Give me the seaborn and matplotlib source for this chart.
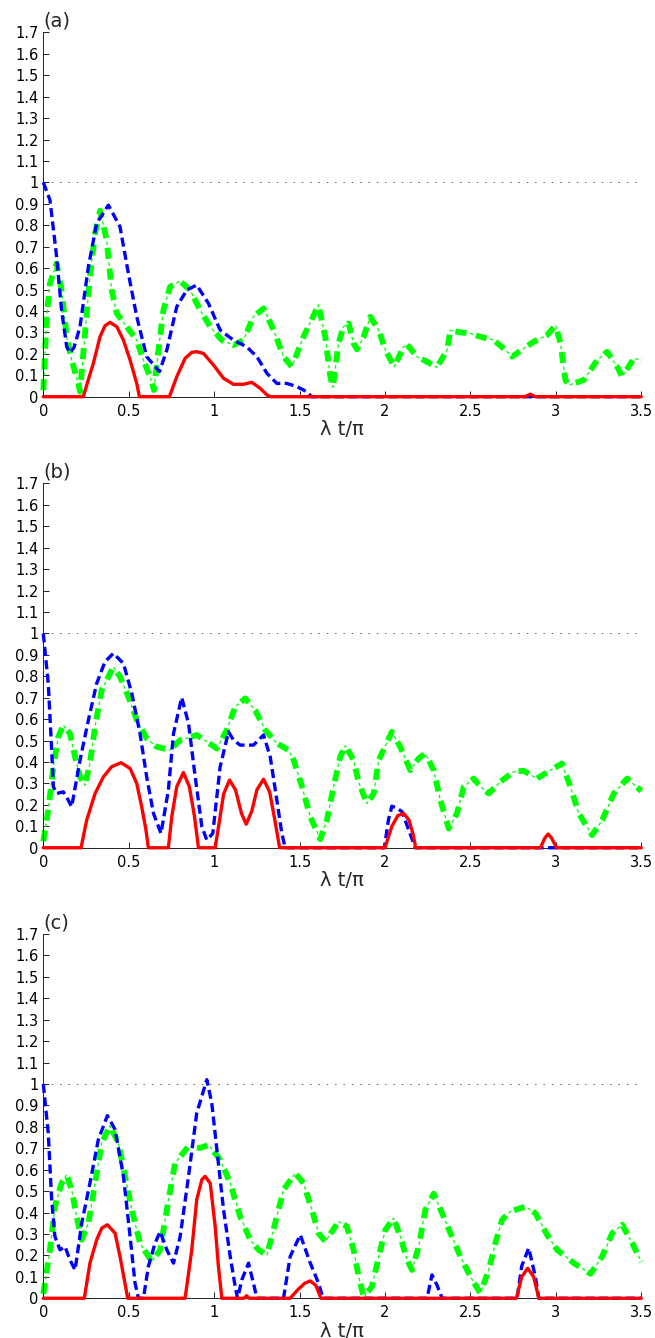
import matplotlib
matplotlib.use("Agg")
import matplotlib.pyplot as plt
import seaborn as sns
from matplotlib.ticker import FormatStrFormatter

# ---- data (x = lambda t / pi) ----
x_ticks = [0, 0.5, 1, 1.5, 2, 2.5, 3, 3.5]
y_ticks = [0, 0.1, 0.2, 0.3, 0.4, 0.5, 0.6, 0.7, 0.8, 0.9,
           1.0, 1.1, 1.2, 1.3, 1.4, 1.5, 1.6, 1.7]
panel_labels = ["(a)", "(b)", "(c)"]

# panel (a)
a_red_t = [0, 0.234, 0.26, 0.293, 0.332, 0.361, 0.39, 0.43, 0.469, 0.508,
           0.547, 0.5625, 0.738, 0.781, 0.83, 0.869, 0.898, 0.9375, 0.996, 1.055,
           1.113, 1.17, 1.22, 1.27, 1.309, 1.332, 2.82, 2.85, 2.88, 3.5]
a_red_p = [0, 0, 0.07, 0.156, 0.28, 0.331, 0.347, 0.327, 0.264, 0.171,
           0.062, 0, 0, 0.093, 0.179, 0.207, 0.21, 0.202, 0.148, 0.086,
           0.058, 0.058, 0.067, 0.039, 0.008, 0, 0, 0.012, 0, 0]

a_blue_t = [0, 0.039, 0.078, 0.107, 0.137, 0.156, 0.18, 0.215, 0.264, 0.3125,
            0.381, 0.449, 0.498, 0.547, 0.605, 0.68, 0.723, 0.781, 0.84, 0.898,
            0.967, 1.035, 1.113, 1.19, 1.25, 1.309, 1.367, 1.426, 1.484, 1.543,
            1.57, 3.5]
a_blue_p = [1.0, 0.918, 0.653, 0.404, 0.233, 0.205, 0.23, 0.327, 0.607, 0.809,
            0.894, 0.793, 0.575, 0.373, 0.187, 0.117, 0.218, 0.42, 0.498, 0.521,
            0.435, 0.311, 0.264, 0.233, 0.187, 0.109, 0.062, 0.062, 0.047, 0.023,
            0, 0]

a_green_t = [0, 0.02, 0.039, 0.078, 0.107, 0.137, 0.166, 0.205, 0.215, 0.244,
             0.273, 0.303, 0.332, 0.371, 0.40, 0.43, 0.488, 0.547, 0.586, 0.625,
             0.648, 0.674, 0.703, 0.742, 0.80, 0.859, 0.918, 0.977, 1.045, 1.113,
             1.172, 1.23, 1.289, 1.348, 1.406, 1.455, 1.523, 1.611, 1.65, 1.68,
             1.695, 1.728, 1.757, 1.787, 1.816, 1.836, 1.875, 1.914, 1.963, 2.002,
             2.054, 2.109, 2.128, 2.187, 2.246, 2.304, 2.363, 2.383, 2.441, 2.50,
             2.558, 2.636, 2.695, 2.744, 2.812, 2.871, 2.949, 2.998, 3.027, 3.056,
             3.076, 3.164, 3.242, 3.30, 3.359, 3.388, 3.457, 3.5]
a_green_p = [0.03, 0.373, 0.529, 0.622, 0.498, 0.28, 0.171, 0.062, 0.023, 0.295,
             0.56, 0.762, 0.868, 0.731, 0.498, 0.389, 0.327, 0.264, 0.171, 0.093,
             0.031, 0.218, 0.404, 0.513, 0.54, 0.498, 0.404, 0.327, 0.264, 0.241,
             0.264, 0.373, 0.412, 0.311, 0.187, 0.14, 0.28, 0.428, 0.28, 0.093,
             0.044, 0.249, 0.327, 0.342, 0.249, 0.221, 0.28, 0.373, 0.311, 0.218,
             0.14, 0.233, 0.244, 0.187, 0.163, 0.137, 0.218, 0.31, 0.30, 0.295,
             0.28, 0.264, 0.225, 0.187, 0.225, 0.257, 0.288, 0.334, 0.249, 0.078,
             0.054, 0.078, 0.171, 0.21, 0.14, 0.093, 0.179, 0.171]

# panel (b)
b_red_t = [0, 0.221, 0.254, 0.303, 0.352, 0.40, 0.455, 0.508, 0.547, 0.576,
           0.601, 0.615, 0.732, 0.752, 0.781, 0.82, 0.855, 0.885, 0.908, 1.006,
           1.03, 1.055, 1.09, 1.125, 1.16, 1.1875, 1.22, 1.25, 1.289, 1.325,
           1.355, 1.383, 2.0, 2.04, 2.075, 2.109, 2.14, 2.165, 2.18, 2.91,
           2.935, 2.955, 2.975, 3.004, 3.5]
b_red_p = [0, 0, 0.129, 0.253, 0.331, 0.378, 0.397, 0.37, 0.3, 0.191,
           0.082, 0, 0, 0.145, 0.285, 0.351, 0.285, 0.145, 0, 0,
           0.12, 0.25, 0.316, 0.27, 0.16, 0.11, 0.17, 0.27, 0.32, 0.26,
           0.13, 0, 0, 0.1, 0.15, 0.16, 0.13, 0.06, 0, 0,
           0.045, 0.064, 0.045, 0, 0]

b_blue_t = [0, 0.029, 0.049, 0.059, 0.078, 0.117, 0.146, 0.166, 0.215, 0.264,
            0.3125, 0.361, 0.41, 0.469, 0.518, 0.566, 0.605, 0.645, 0.689, 0.732,
            0.762, 0.81, 0.85, 0.889, 0.928, 0.957, 0.992, 1.035, 1.084, 1.113,
            1.152, 1.23, 1.289, 1.328, 1.367, 1.396, 1.416, 1.996, 2.02, 2.04,
            2.07, 2.1, 2.14, 2.177, 3.5]
b_blue_p = [1.0, 0.767, 0.456, 0.285, 0.253, 0.261, 0.222, 0.191, 0.409, 0.596,
            0.767, 0.868, 0.907, 0.86, 0.72, 0.533, 0.331, 0.16, 0.067, 0.269,
            0.533, 0.701, 0.58, 0.331, 0.098, 0.036, 0.067, 0.378, 0.541, 0.502,
            0.479, 0.479, 0.526, 0.425, 0.222, 0.067, 0, 0, 0.13, 0.194,
            0.185, 0.168, 0.08, 0, 0]

b_green_t = [0, 0.029, 0.059, 0.088, 0.117, 0.156, 0.186, 0.215, 0.244, 0.273,
             0.303, 0.342, 0.41, 0.449, 0.498, 0.547, 0.605, 0.664, 0.742, 0.80,
             0.898, 0.957, 1.016, 1.074, 1.123, 1.182, 1.24, 1.299, 1.367, 1.436,
             1.465, 1.514, 1.5625, 1.621, 1.66, 1.699, 1.738, 1.768, 1.816, 1.845,
             1.894, 1.934, 1.963, 2.04, 2.089, 2.148, 2.197, 2.236, 2.285, 2.324,
             2.373, 2.421, 2.461, 2.519, 2.558, 2.607, 2.675, 2.754, 2.812, 2.89,
             2.968, 3.036, 3.085, 3.134, 3.212, 3.271, 3.339, 3.417, 3.5]
b_green_p = [0.03, 0.176, 0.378, 0.518, 0.572, 0.533, 0.425, 0.331, 0.292, 0.393,
             0.565, 0.736, 0.844, 0.798, 0.705, 0.596, 0.51, 0.471, 0.456, 0.502,
             0.526, 0.495, 0.463, 0.549, 0.658, 0.697, 0.642, 0.549, 0.487, 0.456,
             0.409, 0.285, 0.145, 0.04, 0.129, 0.285, 0.425, 0.476, 0.409, 0.308,
             0.207, 0.253, 0.409, 0.541, 0.471, 0.362, 0.417, 0.44, 0.362, 0.222,
             0.09, 0.16, 0.285, 0.323, 0.285, 0.253, 0.308, 0.355, 0.359, 0.323,
             0.362, 0.393, 0.285, 0.16, 0.059, 0.129, 0.253, 0.323, 0.265]

# panel (c)
c_red_t = [0, 0.24, 0.273, 0.3125, 0.342, 0.375, 0.42, 0.449, 0.478, 0.494,
           0.83, 0.869, 0.898, 0.928, 0.947, 0.977, 1.006, 1.025, 1.045, 1.175,
           1.19, 1.205, 1.445, 1.49, 1.53, 1.5625, 1.595, 1.625, 2.769, 2.80,
           2.835, 2.87, 2.9, 3.5]
c_red_p = [0, 0, 0.164, 0.273, 0.327, 0.343, 0.304, 0.195, 0.07, 0,
           0, 0.226, 0.46, 0.553, 0.569, 0.537, 0.335, 0.148, 0, 0,
           0.012, 0, 0, 0.04, 0.07, 0.081, 0.06, 0, 0, 0.1,
           0.14, 0.1, 0, 0]

c_blue_t = [0, 0.029, 0.049, 0.068, 0.098, 0.127, 0.156, 0.186, 0.225, 0.273,
            0.322, 0.375, 0.42, 0.469, 0.508, 0.537, 0.557, 0.586, 0.615, 0.654,
            0.684, 0.723, 0.762, 0.801, 0.85, 0.898, 0.957, 0.986, 1.016, 1.055,
            1.094, 1.123, 1.137, 1.162, 1.201, 1.23, 1.25, 1.406, 1.445, 1.504,
            1.5625, 1.611, 1.637, 2.246, 2.275, 2.305, 2.334, 2.773, 2.80, 2.841,
            2.88, 2.9, 3.5]
c_blue_p = [1.0, 0.771, 0.46, 0.288, 0.226, 0.241, 0.179, 0.132, 0.35, 0.537,
            0.74, 0.852, 0.787, 0.569, 0.288, 0.07, 0, 0, 0.148, 0.257,
            0.311, 0.226, 0.164, 0.288, 0.569, 0.864, 1.02, 0.911, 0.693, 0.413,
            0.195, 0.055, 0, 0.086, 0.164, 0.07, 0, 0, 0.195, 0.296,
            0.164, 0.07, 0, 0, 0.109, 0.06, 0, 0, 0.15, 0.234,
            0.10, 0, 0]

c_green_t = [0, 0.039, 0.068, 0.107, 0.137, 0.166, 0.195, 0.225, 0.264, 0.303,
             0.342, 0.39, 0.439, 0.479, 0.518, 0.566, 0.635, 0.684, 0.723, 0.771,
             0.85, 0.918, 0.967, 1.035, 1.094, 1.152, 1.211, 1.26, 1.309, 1.357,
             1.406, 1.475, 1.523, 1.572, 1.611, 1.65, 1.67, 1.728, 1.777, 1.816,
             1.846, 1.875, 1.924, 1.963, 2.002, 2.05, 2.09, 2.129, 2.158, 2.197,
             2.236, 2.285, 2.334, 2.383, 2.441, 2.5, 2.558, 2.607, 2.646, 2.685,
             2.734, 2.822, 2.88, 2.949, 3.007, 3.105, 3.203, 3.271, 3.33, 3.388,
             3.447, 3.5]
c_green_p = [0.02, 0.226, 0.428, 0.537, 0.576, 0.506, 0.382, 0.273, 0.35, 0.537,
             0.724, 0.805, 0.724, 0.569, 0.413, 0.257, 0.171, 0.226, 0.413, 0.631,
             0.709, 0.701, 0.716, 0.646, 0.537, 0.382, 0.273, 0.226, 0.202, 0.35,
             0.506, 0.584, 0.537, 0.413, 0.304, 0.265, 0.288, 0.358, 0.335, 0.226,
             0.101, 0.005, 0.055, 0.195, 0.319, 0.374, 0.288, 0.179, 0.132, 0.241,
             0.413, 0.488, 0.397, 0.304, 0.195, 0.101, 0.023, 0.132, 0.257, 0.366,
             0.405, 0.428, 0.397, 0.296, 0.226, 0.164, 0.114, 0.195, 0.304, 0.343,
             0.257, 0.17]


def draw_panel(ax, label, red, blue, green):
    """Draw one of the three stacked panels."""
    line_kws = dict(ax=ax, estimator=None, sort=False, clip_on=False)

    # reference level at 1
    ax.axhline(1.0, color="0.35", linewidth=0.7, linestyle=(0, (1, 5)), zorder=1)

    # green dash-dot: thick dashes plus thin "dots" in the gaps
    sns.lineplot(x=green[0], y=green[1], color=(0, 1, 0), linewidth=4.2,
                 linestyle=(0, (8, 7)), zorder=2, **line_kws)
    sns.lineplot(x=green[0], y=green[1], color=(0, 1, 0), linewidth=0.9,
                 linestyle=(4.5, (2.5, 12.5)), zorder=2, **line_kws)
    # blue dashed
    sns.lineplot(x=blue[0], y=blue[1], color=(0, 0, 1), linewidth=2.4,
                 linestyle=(0, (6.5, 3.2)), zorder=3, **line_kws)
    # red solid
    sns.lineplot(x=red[0], y=red[1], color=(1, 0, 0), linewidth=2.4,
                 linestyle="-", zorder=4, **line_kws)

    ax.set_xlim(0, 3.5)
    ax.set_ylim(0, 1.7)
    ax.set_xticks(x_ticks)
    ax.set_yticks(y_ticks)
    ax.xaxis.set_major_formatter(FormatStrFormatter("%g"))
    ax.yaxis.set_major_formatter(FormatStrFormatter("%g"))
    ax.tick_params(axis="both", direction="in", length=4, width=0.6,
                   labelsize=10.5, colors="black")
    ax.tick_params(axis="x", pad=5)
    ax.tick_params(axis="y", pad=3.5)
    sns.despine(ax=ax)
    for side in ["left", "bottom"]:
        ax.spines[side].set_linewidth(0.6)
        ax.spines[side].set_color("black")

    ax.set_xlabel("λ t/π", fontsize=14, labelpad=1)
    ax.set_ylabel("")
    ax.text(0.0, 1.004, label, transform=ax.transAxes, fontsize=14,
            ha="left", va="bottom")


sns.set_theme(style="ticks")
plt.rcParams["font.family"] = ["DejaVu Sans"]
plt.rcParams["lines.scale_dashes"] = False

fig = plt.figure(figsize=(6.55, 13.38), dpi=100)
left, width, height = 0.0661, 0.913, 0.2723
bottoms = [0.7035, 0.3664, 0.0297]

series = [
    ((a_red_t, a_red_p), (a_blue_t, a_blue_p), (a_green_t, a_green_p)),
    ((b_red_t, b_red_p), (b_blue_t, b_blue_p), (b_green_t, b_green_p)),
    ((c_red_t, c_red_p), (c_blue_t, c_blue_p), (c_green_t, c_green_p)),
]

for label, bottom, (red, blue, green) in zip(panel_labels, bottoms, series):
    ax = fig.add_axes([left, bottom, width, height])
    ax.set_facecolor("white")
    draw_panel(ax, label, red, blue, green)

fig.savefig("out.png", dpi=100, facecolor="white")
